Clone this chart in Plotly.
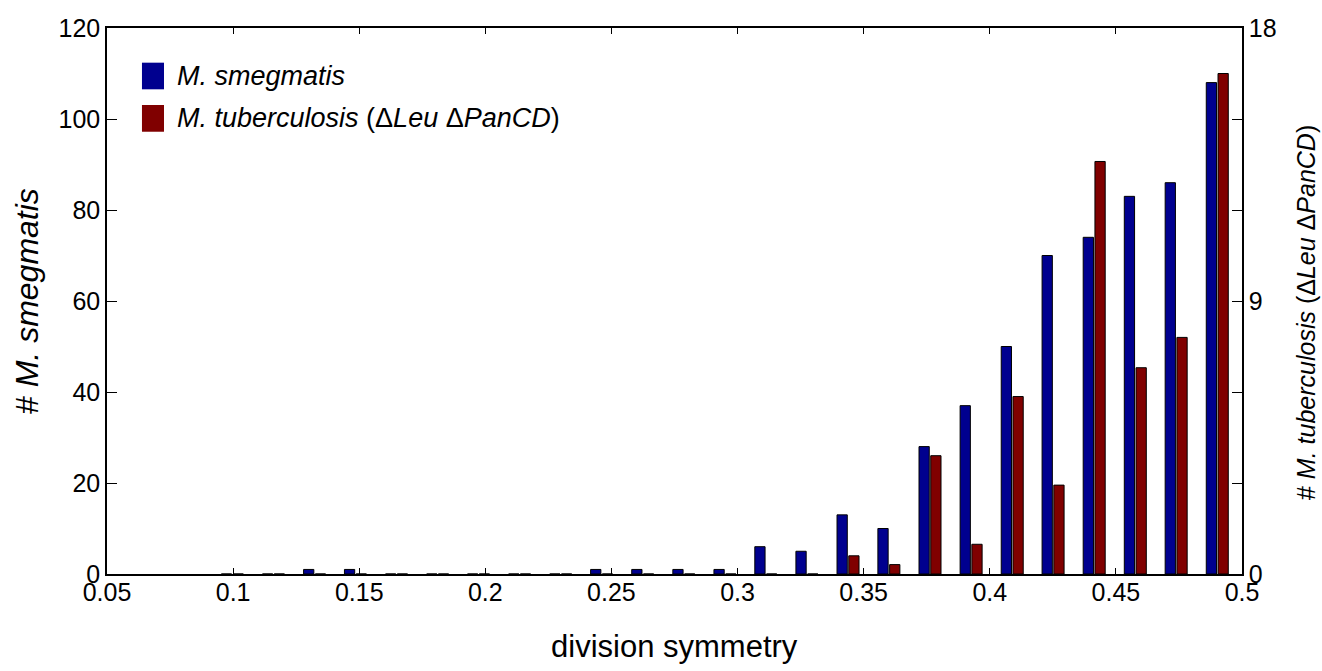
import plotly.graph_objects as go

# Bin centres of the division-symmetry histogram
bin_centers = [0.0997, 0.1160, 0.1323, 0.1485, 0.1648, 0.1811, 0.1973, 0.2136,
               0.2299, 0.2461, 0.2624, 0.2787, 0.2950, 0.3112, 0.3275, 0.3438,
               0.3600, 0.3763, 0.3926, 0.4089, 0.4251, 0.4414, 0.4577, 0.4739,
               0.4902]

# M. smegmatis counts (left axis)
smeg_counts = [0, 0, 1, 1, 0, 0, 0, 0,
               0, 1, 1, 1, 1, 6, 5, 13,
               10, 28, 37, 50, 70, 74, 83, 86,
               108]

# M. tuberculosis (dLeu dPanCD) counts (right axis)
tb_counts = [0, 0, 0, 0, 0, 0, 0, 0,
             0, 0, 0, 0, 0, 0, 0, 0.6,
             0.31, 3.9, 0.98, 5.85, 2.93, 13.6, 6.8, 7.8,
             16.5]

x_ticks = [0.05, 0.1, 0.15, 0.2, 0.25, 0.3, 0.35, 0.4, 0.45, 0.5]
x_ticktext = ["0.05", "0.1", "0.15", "0.2", "0.25", "0.3", "0.35", "0.4", "0.45", "0.5"]
y_ticks = [0, 20, 40, 60, 80, 100, 120]
y2_ticks = [0, 3, 6, 9, 12, 15, 18]
y2_ticktext = ["0", "", "", "9", "", "", "18"]

FONT = "Liberation Sans, Arial, Helvetica, sans-serif"
BLUE = "#00008F"
RED = "#800000"

bin_w = 0.01627
bar_w = bin_w * 0.25

fig = go.Figure()
fig.add_trace(go.Bar(
    x=bin_centers, y=smeg_counts, name="M. smegmatis",
    width=bar_w, offset=-bin_w * 0.268,
    marker=dict(color=BLUE, line=dict(color="black", width=1)),
    yaxis="y", showlegend=False,
))
fig.add_trace(go.Bar(
    x=bin_centers, y=tb_counts, name="M. tuberculosis",
    width=bar_w, offset=bin_w * 0.018,
    marker=dict(color=RED, line=dict(color="black", width=1)),
    yaxis="y2", showlegend=False,
))

TICK = 25
fig.update_layout(
    width=1322, height=671,
    margin=dict(l=107, r=80, t=28, b=97),
    paper_bgcolor="white", plot_bgcolor="white",
    barmode="overlay",
    font=dict(family=FONT, size=TICK, color="black"),
    xaxis=dict(
        range=[0.05, 0.5], tickvals=x_ticks, ticktext=x_ticktext,
        showgrid=False, zeroline=False,
        showline=True, linecolor="black", linewidth=1.5, mirror="ticks",
        ticks="inside", ticklen=6, tickcolor="black", tickwidth=1,
        tickfont=dict(size=TICK, family=FONT),
        ticklabelstandoff=-5,
    ),
    yaxis=dict(
        range=[0, 120], tickvals=y_ticks,
        showgrid=False, zeroline=False,
        showline=True, linecolor="black", linewidth=1.5,
        ticks="inside", ticklen=10, tickcolor="black", tickwidth=1,
        tickfont=dict(size=TICK, family=FONT),
    ),
    yaxis2=dict(
        range=[0, 18], tickvals=y2_ticks, ticktext=y2_ticktext,
        overlaying="y", side="right",
        showgrid=False, zeroline=False,
        showline=True, linecolor="black", linewidth=1.5,
        ticks="inside", ticklen=10, tickcolor="black", tickwidth=1,
        tickfont=dict(size=TICK, family=FONT),
    ),
    shapes=[
        dict(type="rect", xref="paper", yref="paper",
             x0=0.0308, x1=0.0502, y0=0.8877, y1=0.9365,
             fillcolor=BLUE, line=dict(width=0)),
        dict(type="rect", xref="paper", yref="paper",
             x0=0.0308, x1=0.0502, y0=0.810, y1=0.859,
             fillcolor=RED, line=dict(width=0)),
    ],
    annotations=[
        dict(text="<i>M. smegmatis</i>", xref="paper", yref="paper",
             x=0.0600, y=0.912, xanchor="left", yanchor="middle",
             showarrow=False, font=dict(size=27, family=FONT)),
        dict(text="<i>M. tuberculosis</i> (\u0394<i>Leu</i> \u0394<i>PanCD</i>)",
             xref="paper", yref="paper",
             x=0.0600, y=0.835, xanchor="left", yanchor="middle",
             showarrow=False, font=dict(size=27, family=FONT)),
        dict(text="division symmetry", xref="paper", yref="paper",
             x=0.5, y=-0.132, xanchor="center", yanchor="middle",
             showarrow=False, font=dict(size=31, family=FONT)),
        dict(text="# <i>M. smegmatis</i>", xref="paper", yref="paper",
             x=-0.0705, y=0.5, xanchor="center", yanchor="middle",
             textangle=-90, showarrow=False, font=dict(size=32, family=FONT)),
        dict(text="# <i>M. tuberculosis</i> (\u0394<i>Leu</i> \u0394<i>PanCD</i>)",
             xref="paper", yref="paper",
             x=1.0564, y=0.478, xanchor="center", yanchor="middle",
             textangle=-90, showarrow=False, font=dict(size=25, family=FONT)),
    ],
)

fig.write_html("out.html",
               config={"displayModeBar": False},
               post_script="document.body.style.margin='0';document.body.style.overflow='hidden';")
